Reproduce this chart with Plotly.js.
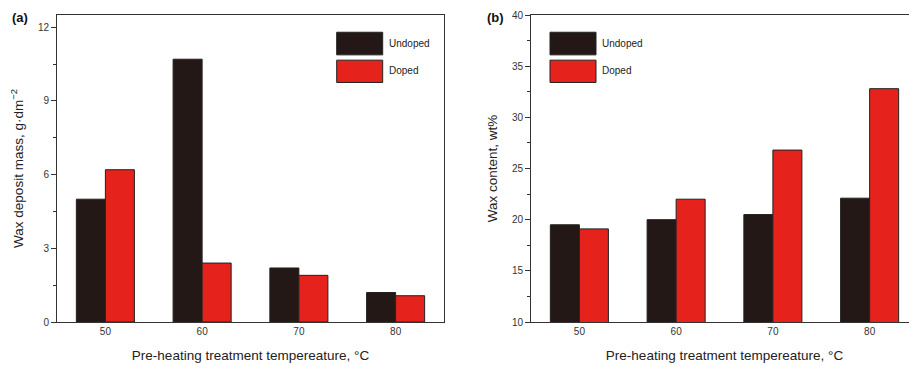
<!DOCTYPE html>
<html>
<head>
<meta charset="utf-8">
<script src="https://cdn.plot.ly/plotly-3.0.1.min.js"></script>
<style>
html,body{margin:0;padding:0;overflow:hidden;background:#fff;}
#chart{width:920px;height:365px;}
</style>
</head>
<body>
<div id="chart"></div>
<script>
// Data
const categories = ['50', '60', '70', '80'];
const massUndoped = [5.0, 10.7, 2.2, 1.2];
const massDoped = [6.2, 2.4, 1.9, 1.07];
const contentUndoped = [19.5, 20.0, 20.5, 22.1];
const contentDoped = [19.1, 22.0, 26.8, 32.8];
const seriesNames = ['Undoped', 'Doped'];
const massTicks = [0, 3, 6, 9, 12];
const contentTicks = [10, 15, 20, 25, 30, 35, 40];

const darkColor = '#231816';
const redColor = '#e5231c';
const lineColor = '#222';
const font = 'Liberation Sans, Arial, sans-serif';

function barTrace(y, color, name, xa, ya) {
  return {
    type: 'bar', x: categories, y: y, name: name,
    xaxis: xa, yaxis: ya,
    marker: {color: color, line: {color: lineColor, width: 1}},
    showlegend: false, hoverinfo: 'skip'
  };
}

const data = [
  barTrace(massUndoped, darkColor, seriesNames[0], 'x', 'y'),
  barTrace(massDoped, redColor, seriesNames[1], 'x', 'y'),
  barTrace(contentUndoped, darkColor, seriesNames[0], 'x2', 'y2'),
  barTrace(contentDoped, redColor, seriesNames[1], 'x2', 'y2')
];

function xAxis(domain, anchor) {
  return {
    domain: domain, anchor: anchor, type: 'category',
    range: [-0.5, 3.5], showgrid: false, zeroline: false,
    showline: true, linecolor: '#333', linewidth: 1, mirror: true,
    ticks: '', tickfont: {family: font, size: 10, color: '#333'},
    title: {text: 'Pre-heating treatment tempereature, °C', font: {family: font, size: 13.5, color: '#222'}, standoff: 14},
    automargin: false, fixedrange: true
  };
}
function yAxis(anchor, range, ticks, minor, titleText) {
  return {
    domain: [0, 1], anchor: anchor, range: range,
    tickmode: 'array', tickvals: ticks, ticktext: ticks.map(String),
    showgrid: false, zeroline: false,
    showline: true, linecolor: '#333', linewidth: 1, mirror: true,
    ticks: 'outside', ticklen: 5, tickwidth: 1, tickcolor: '#333',
    minor: {dtick: minor, tick0: range[0], ticks: 'outside', ticklen: 3, tickwidth: 1, tickcolor: '#333', showgrid: false},
    tickfont: {family: font, size: 10, color: '#333'},
    title: {text: titleText, font: {family: font, size: 13.5, color: '#222'}, standoff: 11},
    automargin: false, fixedrange: true
  };
}

const shapes = [];
const annotations = [];
function legend(x0px, textX) {
  const boxes = [[32.3, 55, darkColor, seriesNames[0], 44], [60.3, 82.7, redColor, seriesNames[1], 71]];
  boxes.forEach(b => {
    shapes.push({type: 'rect', xref: 'paper', yref: 'paper',
      x0: (x0px - 57) / 861, x1: (x0px + 46 - 57) / 861,
      y0: 1 - (b[0] - 15) / 308, y1: 1 - (b[1] - 15) / 308,
      fillcolor: b[2], line: {color: lineColor, width: 1}});
    annotations.push({xref: 'paper', yref: 'paper', x: (textX - 57) / 861, y: 1 - (b[4] - 15) / 308,
      xanchor: 'left', yanchor: 'middle', text: b[3], showarrow: false,
      font: {family: font, size: 10, color: '#222'}});
  });
}
legend(336.7, 386.5);
legend(550, 599.5);

annotations.push({xref: 'paper', yref: 'paper', x: (10 - 57) / 861, y: 1 - (18 - 15) / 308,
  xanchor: 'left', yanchor: 'middle', text: '<b>(a)</b>', showarrow: false, font: {family: font, size: 13, color: '#111'}});
annotations.push({xref: 'paper', yref: 'paper', x: (484.5 - 57) / 861, y: 1 - (18 - 15) / 308,
  xanchor: 'left', yanchor: 'middle', text: '<b>(b)</b>', showarrow: false, font: {family: font, size: 13, color: '#111'}});

const layout = {
  width: 920, height: 365,
  margin: {l: 57, r: 2, t: 15, b: 42.5},
  paper_bgcolor: '#fff', plot_bgcolor: '#fff',
  barmode: 'group', bargap: 0.4, bargroupgap: 0,
  xaxis: xAxis([0, 387 / 861], 'y'),
  yaxis: yAxis('x', [0, 12.5], massTicks, 1.5, 'Wax deposit mass, g·dm<sup>−2</sup>'),
  xaxis2: xAxis([474 / 861, 1], 'y2'),
  yaxis2: yAxis('x2', [10, 40], contentTicks, 2.5, 'Wax content, wt%'),
  shapes: shapes, annotations: annotations,
  showlegend: false
};

Plotly.newPlot('chart', data, layout, {staticPlot: true, displayModeBar: false});
</script>
</body>
</html>
